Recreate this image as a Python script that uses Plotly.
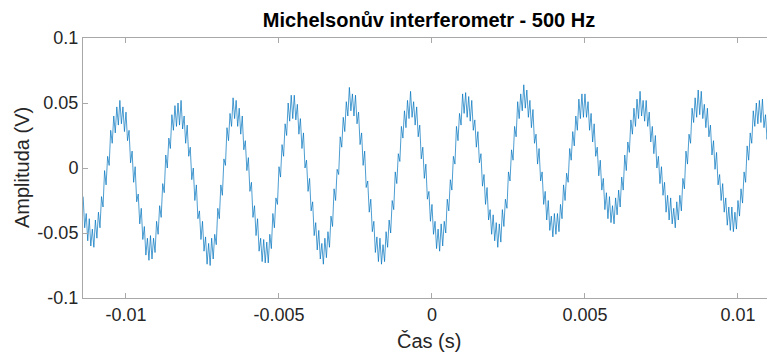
import plotly.graph_objects as go

# Oscilloscope record of the Michelson interferometer signal (500 Hz drive)
sample_start_s = -0.0114
sample_step_s = 0.00005

amplitude_v = [
    -0.022, -0.046, -0.035, -0.056, -0.039, -0.060, -0.047,
    -0.061, -0.040, -0.054, -0.034, -0.046, -0.022, -0.030, -0.002, -0.013, 0.009, 0.002, 0.029, 0.019, 0.040, 0.027, 0.047, 0.033, 0.052,
    0.034, 0.047, 0.028, 0.043, 0.021, 0.029, 0.004, 0.013, -0.011, 0.001, -0.026, -0.020, -0.043, -0.031, -0.055, -0.045, -0.067, -0.054, -0.071, -0.052,
    -0.070, -0.054, -0.065, -0.041, -0.051, -0.029, -0.038, -0.012, -0.019, 0.010, 0.000, 0.023, 0.015, 0.041, 0.029, 0.048, 0.032, 0.050,
    0.033, 0.052, 0.030, 0.040, 0.019, 0.033, 0.009, 0.016, -0.009, 0.000, -0.025, -0.013, -0.039, -0.033, -0.055, -0.041, -0.064, -0.053, -0.074, -0.058, -0.075,
    -0.054, -0.070, -0.051, -0.059, -0.031, -0.039, -0.013, -0.021, 0.007, 0.002, 0.031, 0.021, 0.042, 0.032, 0.054, 0.038,
    0.052, 0.032, 0.046, 0.026, 0.040, 0.014, 0.021, -0.002, 0.008, -0.018, -0.011, -0.038, -0.029, -0.052, -0.039, -0.064, -0.054, -0.072, -0.055, -0.073,
    -0.057, -0.073, -0.051, -0.062, -0.035, -0.046, -0.023, -0.028, 0.001, -0.007, 0.018, 0.009, 0.034, 0.025, 0.050, 0.036, 0.056, 0.038,
    0.056, 0.037, 0.049, 0.026, 0.038, 0.015, 0.027, 0.000, 0.006, -0.018, -0.008, -0.033, -0.026, -0.052, -0.042, -0.063, -0.048, -0.070, -0.058, -0.074,
    -0.054, -0.069, -0.049, -0.061, -0.037, -0.045, -0.016, -0.025, -0.001, -0.005, 0.024, 0.016, 0.039, 0.028, 0.051, 0.040, 0.062, 0.044,
    0.057, 0.040, 0.056, 0.034, 0.043, 0.018, 0.027, 0.002, 0.013, -0.015, -0.010, -0.034, -0.024, -0.049, -0.041, -0.065, -0.053, -0.072, -0.054, -0.074,
    -0.059, -0.072, -0.049, -0.061, -0.040, -0.050, -0.025, -0.032, -0.003, -0.012, 0.011, 0.005, 0.032, 0.023, 0.044, 0.031, 0.052, 0.038, 0.059,
    0.039, 0.051, 0.033, 0.047, 0.024, 0.033, 0.007, 0.016, -0.008, 0.003, -0.024, -0.018, -0.041, -0.028, -0.051, -0.041, -0.062, -0.047, -0.064,
    -0.043, -0.060, -0.041, -0.050, -0.024, -0.033, -0.009, -0.017, 0.009, 0.003, 0.032, 0.021, 0.042, 0.033, 0.057, 0.042, 0.058,
    0.039, 0.055, 0.036, 0.052, 0.029, 0.037, 0.016, 0.028, 0.004, 0.011, -0.014, -0.005, -0.028, -0.015, -0.040, -0.032, -0.051, -0.036, -0.056, -0.042, -0.061,
    -0.043, -0.057, -0.032, -0.045, -0.024, -0.031, -0.003, -0.010, 0.014, 0.006, 0.032, 0.024, 0.051, 0.038, 0.057, 0.044, 0.064,
    0.046, 0.060, 0.039, 0.052, 0.031, 0.045, 0.019, 0.026, 0.003, 0.015, -0.010, -0.003, -0.028, -0.018, -0.040, -0.025, -0.048, -0.037, -0.053, -0.035,
    -0.051, -0.035, -0.049, -0.028, -0.039, -0.013, -0.025, -0.004, -0.011, 0.015, 0.006, 0.028, 0.017, 0.040, 0.029, 0.053, 0.038, 0.057, 0.039,
    0.057, 0.039, 0.051, 0.029, 0.042, 0.020, 0.034, 0.009, 0.016, -0.006, 0.006, -0.017, -0.008, -0.032, -0.019, -0.039, -0.022, -0.042, -0.029,
    -0.043, -0.023, -0.036, -0.017, -0.030, -0.007, -0.017, 0.010, -0.002, 0.020, 0.012, 0.037, 0.026, 0.046, 0.032, 0.053, 0.038, 0.059,
    0.040, 0.052, 0.036, 0.052, 0.032, 0.043, 0.020, 0.032, 0.011, 0.025, 0.000, 0.009, -0.012, 0.001, -0.021, -0.011, -0.034, -0.021, -0.040, -0.023, -0.043, -0.031, -0.046,
    -0.026, -0.040, -0.021, -0.033, -0.008, -0.016, 0.013, 0.003, 0.026, 0.019, 0.046, 0.035, 0.054, 0.039, 0.060,
    0.041, 0.059, 0.038, 0.049, 0.031, 0.046, 0.024, 0.033, 0.010, 0.021, -0.001, 0.012, -0.013, -0.005, -0.025, -0.012, -0.034, -0.023, -0.044, -0.030, -0.048, -0.030, -0.049,
    -0.034, -0.047, -0.025, -0.037, -0.016, -0.027, -0.003, -0.011, 0.017, 0.006, 0.027, 0.019, 0.044, 0.032, 0.050, 0.034, 0.052,
    0.035, 0.053, 0.031, 0.041, 0.022, 0.036, 0.014, 0.024, 0.001, 0.013, -0.007,
]

time_s = [sample_start_s + i * sample_step_s for i in range(len(amplitude_v))]

x_tick_values = [-0.01, -0.005, 0, 0.005, 0.01]
x_tick_labels = ["-0.01", "-0.005", "0", "0.005", "0.01"]
y_tick_values = [-0.1, -0.05, 0, 0.05, 0.1]
y_tick_labels = ["-0.1", "-0.05", "0", "0.05", "0.1"]

FONT = "Liberation Sans, Arial, Helvetica, sans-serif"
AXIS_GREY = "#a8a8a8"
TEXT_GREY = "#262626"

# the page body has an 8 px margin; the figure is sized to end at the window edge
FIG_W, FIG_H = 767, 348
M_L, M_R, M_T, M_B = 75, 0, 30, 58
PLOT_W = FIG_W - M_L - M_R

fig = go.Figure()
fig.add_trace(go.Scatter(
    x=time_s, y=amplitude_v, mode="lines",
    line=dict(color="#0072BD", width=0.7),
    showlegend=False, hoverinfo="skip",
))

axis_common = dict(
    showgrid=False, zeroline=False, showline=True, linecolor=AXIS_GREY,
    linewidth=1, ticks="inside", ticklen=5, tickcolor=AXIS_GREY, tickwidth=1,
    tickfont=dict(family=FONT, size=18, color=TEXT_GREY),
)

fig.update_layout(
    width=FIG_W, height=FIG_H,
    margin=dict(l=M_L, r=M_R, t=M_T, b=M_B, pad=0),
    paper_bgcolor="white", plot_bgcolor="white",
    font=dict(family=FONT, color=TEXT_GREY),
    title=dict(
        text="<b>Michelsonův interferometr - 500 Hz</b>",
        font=dict(family=FONT, size=20, color="black"),
        x=0.5, xref="paper", xanchor="center",
        y=1 - 11.5 / FIG_H, yref="container", yanchor="middle",
    ),
    xaxis=dict(range=[-0.011405, 0.01121], tickvals=x_tick_values,
               ticktext=x_tick_labels, mirror="ticks", **axis_common),
    yaxis=dict(range=[-0.1, 0.1], tickvals=y_tick_values,
               ticktext=y_tick_labels, mirror=False, **axis_common),
    annotations=[
        dict(text="Čas (s)", xref="paper", yref="paper", x=0.5, y=0,
             yshift=-43, xanchor="center", yanchor="middle", showarrow=False,
             font=dict(family=FONT, size=20, color=TEXT_GREY)),
        dict(text="Amplituda (V)", xref="paper", yref="paper",
             x=-(83 - 22) / PLOT_W, y=0.5, textangle=-90,
             xanchor="center", yanchor="middle", showarrow=False,
             font=dict(family=FONT, size=20, color=TEXT_GREY)),
    ],
)

fig.write_html("out.html")
